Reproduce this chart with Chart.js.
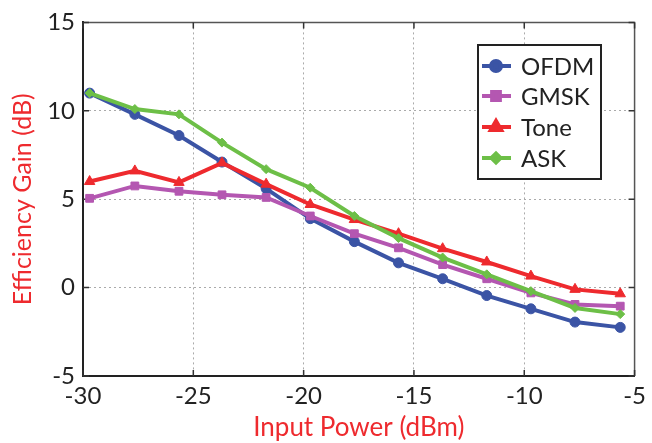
<!DOCTYPE html>
<html>
<head>
<meta charset="utf-8">
<script src="https://cdn.jsdelivr.net/npm/chart.js@4"></script>
<style>
  html, body { margin: 0; padding: 0; background: #fff; }
  #wrap { width: 652px; height: 443px; }
</style>
</head>
<body>
<div id="wrap"><canvas id="chart"></canvas></div>
<script>
// values
const inputPower = [-29.7, -27.65, -25.65, -23.7, -21.7, -19.7, -17.7, -15.7, -13.7, -11.7, -9.7, -7.7, -5.65];
const ofdm = [11.0, 9.8, 8.6, 7.1, 5.6, 3.9, 2.6, 1.4, 0.5, -0.45, -1.2, -1.95, -2.25];
const gmsk = [5.05, 5.75, 5.45, 5.25, 5.1, 4.05, 3.05, 2.25, 1.3, 0.5, -0.3, -0.95, -1.05];
const tone = [6.0, 6.6, 5.95, 7.05, 5.85, 4.7, 3.85, 3.05, 2.2, 1.45, 0.65, -0.1, -0.35];
const ask = [11.0, 10.1, 9.8, 8.2, 6.7, 5.65, 4.05, 2.8, 1.7, 0.75, -0.2, -1.15, -1.5];
const xTicks = [-30, -25, -20, -15, -10, -5];
const yTicks = [-5, 0, 5, 10, 15];

const FONT = 'Lato';
const RED = '#ee2a2e';

function pts(ys) {
    return inputPower.map((x, i) => ({ x: x, y: ys[i] }));
}

function series(label, ys, color, shape, radius, order) {
    return {
        label: label,
        data: pts(ys),
        borderColor: color,
        backgroundColor: color,
        borderWidth: 4,
        pointStyle: shape,
        pointRadius: radius,
        pointBorderWidth: 1,
        order: order,
        tension: 0
    };
}

// top/right frame and inward ticks (matlab style box)
const frame = {
    id: 'frame',
    beforeDatasetsDraw(chart) {
        const { ctx, chartArea: a, scales } = chart;
        ctx.save();
        ctx.strokeStyle = '#555';
        ctx.lineWidth = 1.5;
        ctx.beginPath();
        ctx.moveTo(a.left, a.top);
        ctx.lineTo(a.right, a.top);
        ctx.lineTo(a.right, a.bottom);
        ctx.stroke();
        ctx.strokeStyle = '#333';
        ctx.beginPath();
        xTicks.forEach(v => {
            const x = scales.x.getPixelForValue(v);
            ctx.moveTo(x, a.bottom); ctx.lineTo(x, a.bottom - 6);
            ctx.moveTo(x, a.top); ctx.lineTo(x, a.top + 6);
        });
        yTicks.forEach(v => {
            const y = scales.y.getPixelForValue(v);
            ctx.moveTo(a.left, y); ctx.lineTo(a.left + 6, y);
            ctx.moveTo(a.right, y); ctx.lineTo(a.right - 6, y);
        });
        ctx.stroke();
        ctx.restore();
    }
};

// legend drawn inside the plot, like the original figure
const boxLegend = {
    id: 'boxLegend',
    afterDatasetsDraw(chart) {
        const ctx = chart.ctx;
        const x0 = 478, y0 = 45, w = 123, h = 134;
        ctx.save();
        ctx.fillStyle = '#fff';
        ctx.fillRect(x0, y0, w, h);
        ctx.strokeStyle = '#222';
        ctx.lineWidth = 2;
        ctx.strokeRect(x0, y0, w, h);
        const rows = [66, 96, 127, 158];
        chart.data.datasets.forEach((ds, i) => {
            const y = rows[i];
            ctx.strokeStyle = ds.borderColor;
            ctx.lineWidth = 4;
            ctx.beginPath();
            ctx.moveTo(x0 + 4, y);
            ctx.lineTo(x0 + 33, y);
            ctx.stroke();
            ctx.fillStyle = ds.backgroundColor;
            Chart.helpers.drawPoint(ctx, {
                pointStyle: ds.pointStyle, radius: ds.pointRadius, rotation: 0, borderWidth: 1
            }, x0 + 18, y);
            ctx.fillStyle = '#222';
            ctx.font = '24px ' + FONT;
            ctx.textAlign = 'left';
            ctx.textBaseline = 'middle';
            ctx.fillText(ds.label, x0 + 43, y + 1);
        });
        ctx.restore();
    }
};

const ctx = document.getElementById('chart').getContext('2d');
new Chart(ctx, {
    type: 'line',
    data: {
        datasets: [
            series('OFDM', ofdm, '#3b54a5', 'circle', 5, 4),
            series('GMSK', gmsk, '#b457b1', 'rect', 5.5, 3),
            series('Tone', tone, '#ee2a2e', 'triangle', 6, 2),
            series('ASK', ask, '#6dbf47', 'rectRot', 4.5, 1)
        ]
    },
    options: {
        responsive: true,
        maintainAspectRatio: false,
        animation: false,
        layout: { padding: { top: 16, right: 11, left: 0, bottom: 0 } },
        plugins: {
            legend: { display: false },
            tooltip: { enabled: false }
        },
        scales: {
            x: {
                type: 'linear',
                min: -30,
                max: -5,
                afterBuildTicks: s => { s.ticks = xTicks.map(v => ({ value: v })); },
                afterFit: s => { s.height = 67; },
                ticks: { color: '#222', font: { family: FONT, size: 24 }, padding: 6, maxRotation: 0 },
                grid: { color: '#aaa', tickLength: 0, lineWidth: 1 },
                border: { display: true, color: '#222', width: 2, dash: [2, 3] },
                title: {
                    display: true,
                    text: 'Input Power (dBm)',
                    color: RED,
                    font: { family: FONT, size: 26 },
                    padding: { top: 0, bottom: 0 }
                }
            },
            y: {
                min: -5,
                max: 15,
                afterBuildTicks: s => { s.ticks = yTicks.map(v => ({ value: v })); },
                afterFit: s => { s.width = 83; },
                ticks: { color: '#222', font: { family: FONT, size: 24 }, padding: 8 },
                grid: { color: '#aaa', tickLength: 0, lineWidth: 1 },
                border: { display: true, color: '#222', width: 2, dash: [2, 3] },
                title: {
                    display: true,
                    text: 'Efficiency Gain (dB)',
                    color: RED,
                    font: { family: FONT, size: 25 },
                    padding: { top: 8, bottom: 2 }
                }
            }
        }
    },
    plugins: [frame, boxLegend]
});
</script>
</body>
</html>
